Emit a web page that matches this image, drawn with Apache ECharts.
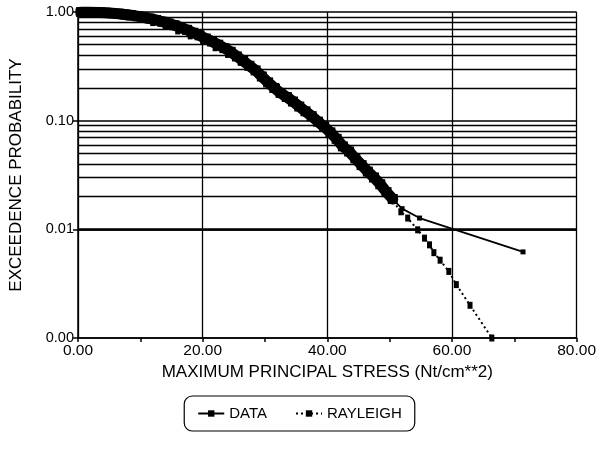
<!DOCTYPE html>
<html>
<head>
<meta charset="utf-8">
<script src="https://cdn.jsdelivr.net/npm/echarts@6/dist/echarts.min.js"></script>
<style>
html,body{margin:0;padding:0;background:#fff;}
#c{width:599px;height:460px;}
</style>
</head>
<body>
<div id="c"></div>
<script>
// DATA series (stress, exceedance probability)
const dataX = [0.5,1.5,2.5,3.5,4.5,5.5,6.5,7.5,8.5,9.5,10.5,11.5,12.5,13.5,14.5,15.5,16.5,17.5,18.5,19.5,
  20.5,21.5,22.5,23.5,24.5,25.5,26.5,27.5,28.5,29.5,30.5,31.5,32.5,33.5,34.5,35.5,36.5,37.5,38.5,39.5,
  40.5,41.5,42.5,43.5,44.5,45.5,46.5,47.5,48.5,49.5,50.5,52.0,54.8,71.4];
const dataP = [1.0,1.0,0.995,0.99,0.985,0.975,0.965,0.95,0.935,0.915,0.895,0.87,0.845,0.815,0.785,0.755,0.72,0.685,0.645,0.61,
  0.57,0.535,0.50,0.465,0.43,0.39,0.355,0.32,0.29,0.255,0.225,0.20,0.18,0.165,0.15,0.135,0.122,0.11,0.098,0.088,
  0.078,0.068,0.058,0.052,0.045,0.039,0.034,0.030,0.026,0.022,0.019,0.0155,0.0127,0.0062];
// RAYLEIGH series
const rayX = [0,2,4,6,8,10,12,14,16,18,20,22,24,26,28,30,32,34,36,38,40,42,44,46,48,50,
  51.8,52.9,54.5,55.6,56.4,57.1,58.1,59.5,60.7,62.9,66.4];
const rayP = [1.0,0.994,0.975,0.945,0.905,0.855,0.799,0.736,0.670,0.603,0.535,0.469,0.407,0.348,0.294,0.245,0.202,0.164,0.132,0.105,
  0.082,0.0635,0.0486,0.0367,0.0273,0.0201,
  0.0145,0.0127,0.0099,0.0083,0.0072,0.0061,0.0052,0.0041,0.0031,0.0020,0.0010];
// minor log grid levels
const minorLevels = [0.002,0.003,0.004,0.005,0.006,0.007,0.008,0.009,
  0.02,0.03,0.04,0.05,0.06,0.07,0.08,0.09,
  0.2,0.3,0.4,0.5,0.6,0.7,0.8,0.9];

const FONT = '"Liberation Sans", Arial, Helvetica, sans-serif';
const chart = echarts.init(document.getElementById('c'), null, {renderer:'canvas'});
const pairs = (xs, ys) => xs.map((x,i)=>[x, ys[i]]);
const denseCount = 51;
const allData = pairs(dataX, dataP);

chart.setOption({
  animation:false,
  backgroundColor:'#fff',
  textStyle:{fontFamily:FONT, color:'#000'},
  grid:{left:68, right:21, top:12, bottom:122, containLabel:false},
  legend:{
    bottom:29, left:'center',
    data:['DATA','RAYLEIGH'],
    orient:'horizontal',
    borderColor:'#000', borderWidth:1.2, borderRadius:8,
    padding:[10,13], itemGap:28, itemWidth:26, itemHeight:8,
    textStyle:{fontFamily:FONT, fontSize:15, color:'#000'}
  },
  xAxis:{
    type:'value', min:0, max:80, interval:20,
    name:'MAXIMUM PRINCIPAL STRESS (Nt/cm**2)',
    nameLocation:'middle', nameGap:24,
    nameTextStyle:{fontFamily:FONT, fontSize:17, color:'#000'},
    axisLine:{show:true, onZero:false, lineStyle:{color:'#000', width:1.5}},
    axisTick:{show:true, inside:false, length:4, lineStyle:{color:'#000', width:1.5}},
    minorTick:{show:true, splitNumber:2, length:4, lineStyle:{color:'#000', width:1.5}},
    axisLabel:{fontFamily:FONT, fontSize:15.5, color:'#000', margin:5,
      formatter:v=>v.toFixed(2)},
    splitLine:{show:true, lineStyle:{color:'#000', width:1.3}}
  },
  yAxis:{
    type:'log', logBase:10, min:0.001, max:1,
    name:'EXCEEDENCE PROBABILITY',
    nameLocation:'middle', nameGap:53, nameRotate:90,
    nameTextStyle:{fontFamily:FONT, fontSize:17, color:'#000'},
    axisLine:{show:true, onZero:false, lineStyle:{color:'#000', width:1.5}},
    axisTick:{show:true, inside:false, length:5, lineStyle:{color:'#000', width:1.5}},
    axisLabel:{fontFamily:FONT, fontSize:14.5, color:'#000', margin:4,
      formatter:v=>Number(v).toFixed(2)},
    splitLine:{show:true, lineStyle:{color:'#000', width:1.6}}
  },
  series:[
    {
      name:'grid', type:'line', data:[], silent:true, z:1,
      markLine:{
        silent:true, symbol:['none','none'], animation:false,
        label:{show:false},
        lineStyle:{type:'solid', color:'#000', width:1.3},
        data:minorLevels.map(v=>({yAxis:v}))
      }
    },
    {
      name:'DATA', type:'line', z:4,
      data:allData,
      symbol:'rect',
      symbolSize:(v, p)=> p.dataIndex < denseCount ? 10 : 5,
      showSymbol:true,
      itemStyle:{color:'#000'},
      lineStyle:{color:'#000', width:1.8}
    },
    {
      name:'RAYLEIGH', type:'line', z:3,
      data:pairs(rayX, rayP),
      symbol:'rect', symbolSize:[5,7], showSymbol:true,
      itemStyle:{color:'#000'},
      lineStyle:{color:'#000', width:2, type:[2,3]}
    },
    {
      name:'DATA', type:'line', z:4,
      data:allData.slice(0, denseCount),
      symbol:'none',
      itemStyle:{color:'#000'},
      lineStyle:{color:'#000', width:11, join:'round', cap:'round'}
    }
  ]
});
</script>
</body>
</html>
